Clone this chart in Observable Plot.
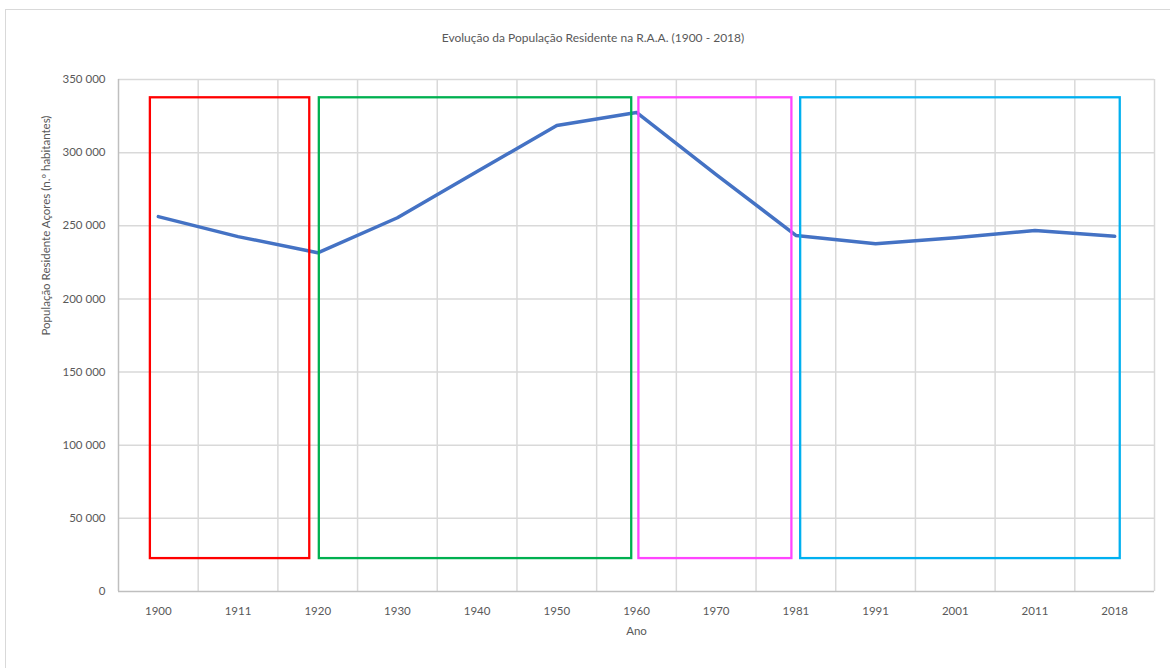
<!DOCTYPE html>
<html>
<head>
<meta charset="utf-8">
<script src="https://cdn.jsdelivr.net/npm/d3@7"></script>
<script src="https://cdn.jsdelivr.net/npm/@observablehq/plot@0.6"></script>
<style>
  html, body { margin: 0; padding: 0; background: #ffffff; overflow: hidden; }
  #wrap { position: relative; width: 1170px; height: 668px; font-family: Lato, "Open Sans", sans-serif; }
  #frame { position: absolute; left: 5px; top: 9px; width: 1200px; height: 700px; border: 1.5px solid #d9d9d9; box-sizing: border-box; }
  #title { position: absolute; left: 0; top: 30px; width: 1170px; height: 16px; line-height: 16px; text-align: center; font-size: 12px; color: #595959; padding-left: 8px; }
  #chart { position: absolute; left: 0; top: 58px; }
</style>
</head>
<body>
<div id="wrap">
  <div id="frame"></div>
  <div id="title">Evolução da População Residente na R.A.A. (1900 - 2018)</div>
  <div id="chart"></div>
</div>
<script>
// ---- Data ----
const years = ["1900", "1911", "1920", "1930", "1940", "1950", "1960", "1970", "1981", "1991", "2001", "2011", "2018"];
const population = [256291, 242613, 231543, 255500, 287091, 318558, 327476, 285015, 243410, 237795, 241763, 246772, 242846];
const yTicks = [0, 50000, 100000, 150000, 200000, 250000, 300000, 350000];
const yLabel = "População Residente Açores (n.º habitantes)";
const xLabel = "Ano";

// Highlighted periods (x in category-index units, y in inhabitants)
const periodStart = [-0.10, 2.02, 6.03, 8.06];
const periodEnd = [1.90, 5.94, 7.95, 12.07];
const periodBottom = [22500, 22500, 22500, 22500];
const periodTop = [337500, 337500, 337500, 337500];
const periodColors = ["#ff0000", "#00b050", "#ff45ff", "#00b0f0"];

// ---- Build tables ----
const series = years.map((yr, i) => ({ i, year: yr, value: population[i] }));
const periods = periodStart.map((s, k) => ({ x1: s, x2: periodEnd[k], y1: periodBottom[k], y2: periodTop[k], color: periodColors[k] }));
const idx = years.map((_, i) => i);
const vGrid = years.map((_, i) => i + 0.5);
const fmt = d => d3.format(",")(d).replace(/,/g, "\u00a0");

const chart = Plot.plot({
  width: 1170,
  height: 610,
  marginLeft: 118,
  marginRight: 16,
  marginTop: 21,
  marginBottom: 77,
  style: { fontFamily: "Lato, 'Open Sans', sans-serif", fontSize: "11.5px", color: "#595959", background: "transparent" },
  x: { type: "linear", domain: [-0.5, years.length - 0.5] },
  y: { type: "linear", domain: [0, 350000] },
  marks: [
    Plot.ruleX(vGrid, { stroke: "#d9d9d9", strokeWidth: 1.5 }),
    Plot.ruleY(yTicks.filter(d => d > 0), { stroke: "#d9d9d9", strokeWidth: 1.5 }),
    Plot.ruleX([-0.5], { stroke: "#bfbfbf", strokeWidth: 1.5 }),
    Plot.ruleY([0], { stroke: "#bfbfbf", strokeWidth: 1.5 }),
    Plot.axisX({ ticks: idx, tickFormat: i => years[i], tickSize: 0, tickPadding: 15, label: null }),
    Plot.axisY({ ticks: yTicks, tickFormat: fmt, tickSize: 0, tickPadding: 13, label: null }),
    Plot.line(series, { x: "i", y: "value", stroke: "#4472c4", strokeWidth: 3.5, strokeLinejoin: "round", strokeLinecap: "round" }),
    Plot.rect(periods, { x1: "x1", x2: "x2", y1: "y1", y2: "y2", fill: "none", stroke: "color", strokeWidth: 2.3 }),
    Plot.text([yLabel], { text: d => d, frameAnchor: "left", dx: -72, rotate: -90, fill: "#595959", fontSize: 11.5 }),
    Plot.text([xLabel], { text: d => d, frameAnchor: "bottom", dy: 43, fill: "#595959", fontSize: 11.5 })
  ]
});
document.getElementById("chart").appendChild(chart);
</script>
</body>
</html>
